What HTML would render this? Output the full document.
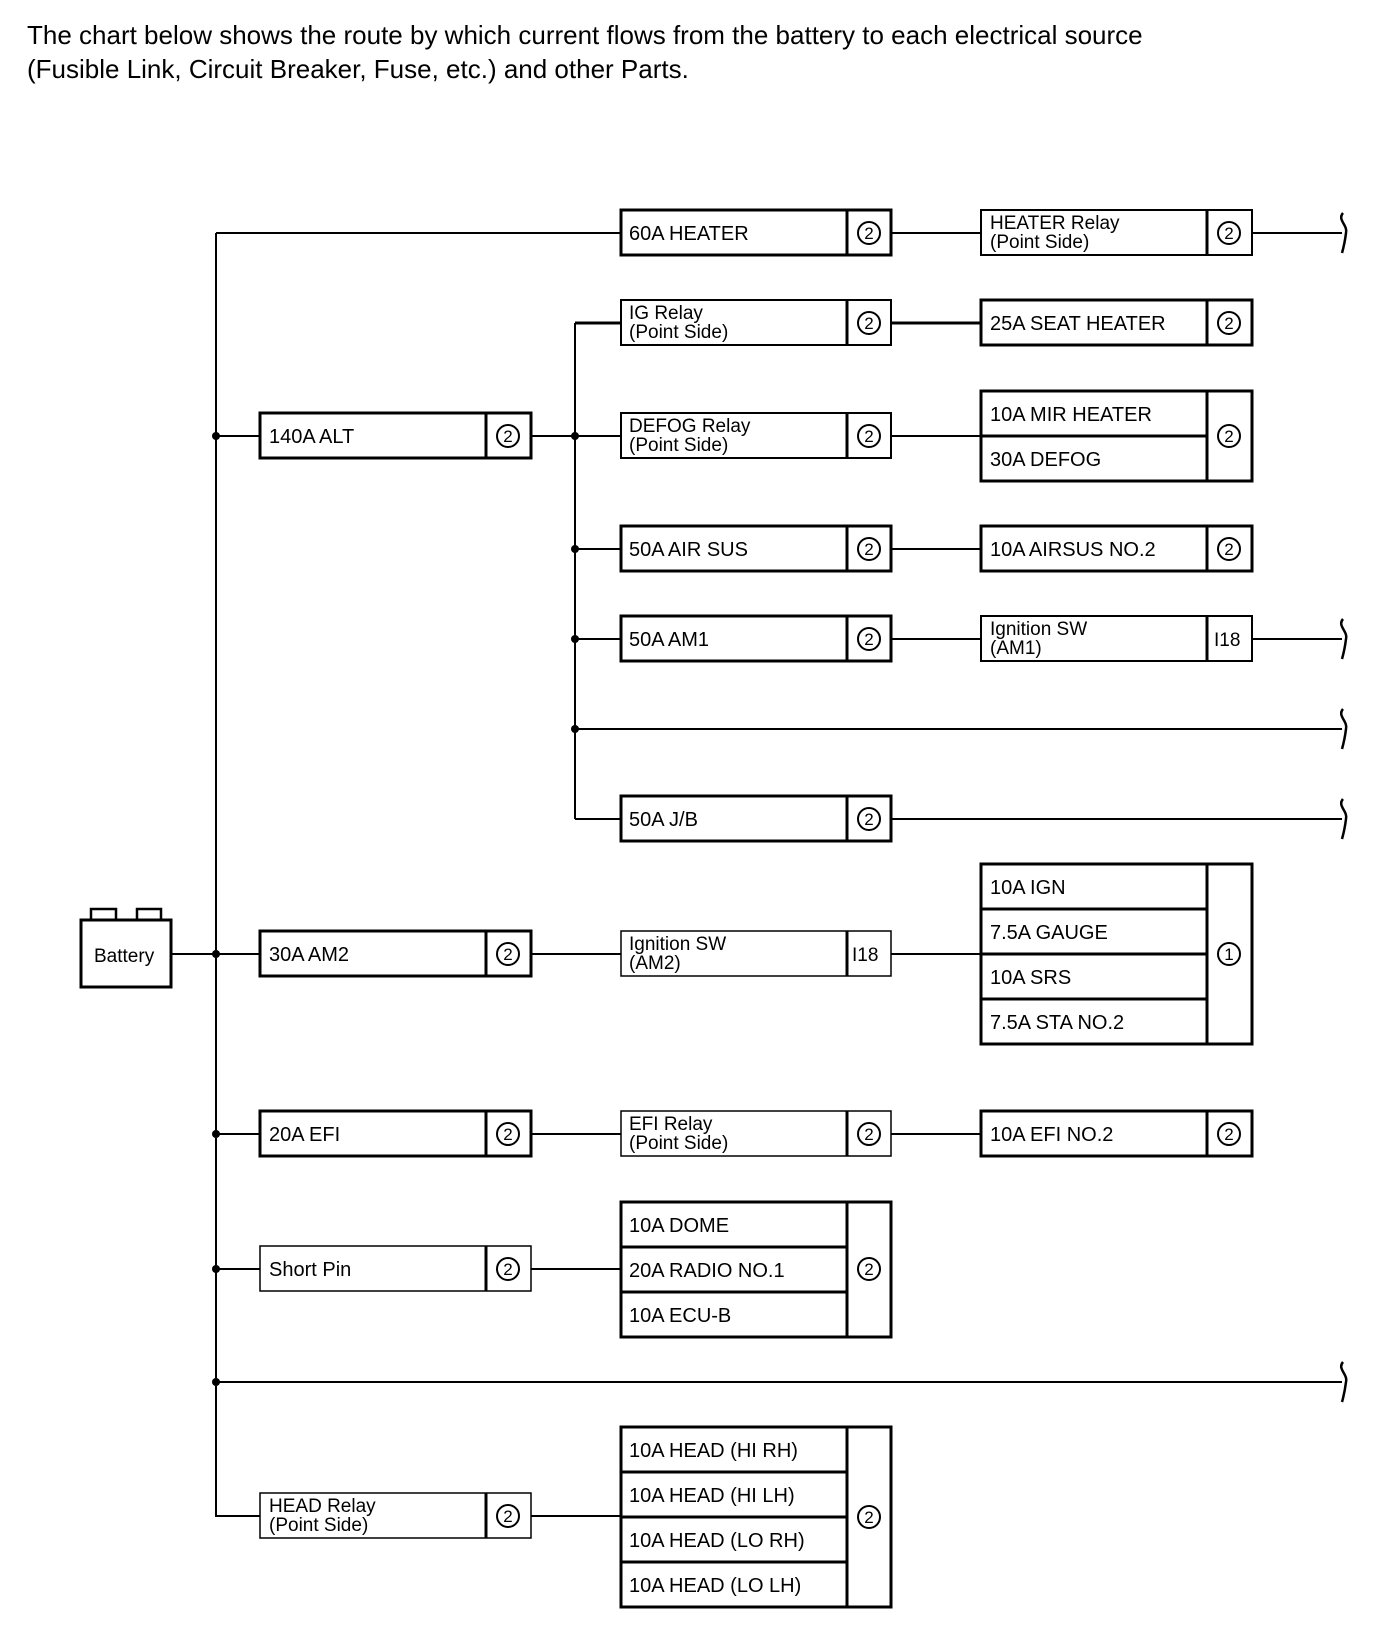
<!DOCTYPE html>
<html><head><meta charset="utf-8"><style>
body{margin:0;background:#fff;}
svg text{font-family:"Liberation Sans",Arial,sans-serif;fill:#000;}
</style></head><body>
<svg width="1376" height="1624" viewBox="0 0 1376 1624" xmlns="http://www.w3.org/2000/svg">
<text x="27" y="44" font-size="26">The chart below shows the route by which current flows from the battery to each electrical source</text>
<text x="27" y="78" font-size="26">(Fusible Link, Circuit Breaker, Fuse, etc.) and other Parts.</text>
<g stroke="#000" stroke-width="2" fill="none">
<!-- main bus -->
<line x1="216" y1="233" x2="216" y2="1517"/>
<line x1="216" y1="233" x2="621" y2="233"/>
<line x1="216" y1="436" x2="260" y2="436"/>
<line x1="172" y1="954" x2="260" y2="954"/>
<line x1="216" y1="1134" x2="260" y2="1134"/>
<line x1="216" y1="1269" x2="260" y2="1269"/>
<line x1="216" y1="1382" x2="1342" y2="1382"/>
<line x1="216" y1="1516" x2="260" y2="1516"/>
<!-- second bus -->
<line x1="575" y1="323" x2="575" y2="819"/>
<line x1="531" y1="436" x2="621" y2="436"/>
<line x1="575" y1="323" x2="621" y2="323" stroke-width="3"/>
<line x1="575" y1="549" x2="621" y2="549"/>
<line x1="575" y1="639" x2="621" y2="639"/>
<line x1="575" y1="729" x2="1342" y2="729"/>
<line x1="575" y1="819" x2="621" y2="819"/>
<!-- B to C -->
<line x1="891" y1="233" x2="980" y2="233"/>
<line x1="1252" y1="233" x2="1342" y2="233"/>
<line x1="891" y1="323" x2="980" y2="323" stroke-width="3"/>
<line x1="891" y1="436" x2="980" y2="436"/>
<line x1="891" y1="549" x2="980" y2="549"/>
<line x1="891" y1="639" x2="980" y2="639"/>
<line x1="1252" y1="639" x2="1342" y2="639"/>
<line x1="891" y1="819" x2="1342" y2="819"/>
<line x1="531" y1="954" x2="621" y2="954"/>
<line x1="891" y1="954" x2="980" y2="954"/>
<line x1="531" y1="1134" x2="621" y2="1134"/>
<line x1="891" y1="1134" x2="980" y2="1134"/>
<line x1="531" y1="1269" x2="621" y2="1269"/>
<line x1="531" y1="1516" x2="621" y2="1516"/>
<!-- brackets -->
<g stroke-width="2.5">
<path d="M1343,213 C1337,220 1348,225 1346,233 C1345,241 1344,246 1342,253"/>
<path d="M1343,619 C1337,626 1348,631 1346,639 C1345,647 1344,652 1342,659"/>
<path d="M1343,709 C1337,716 1348,721 1346,729 C1345,737 1344,742 1342,749"/>
<path d="M1343,799 C1337,806 1348,811 1346,819 C1345,827 1344,832 1342,839"/>
<path d="M1343,1362 C1337,1369 1348,1374 1346,1382 C1345,1390 1344,1395 1342,1402"/>
</g>
<!-- battery -->
<rect x="81" y="920" width="90" height="67" stroke-width="3"/>
<rect x="91" y="909" width="25" height="11" stroke-width="2.5"/>
<rect x="137" y="909" width="24" height="11" stroke-width="2.5"/>
</g>
<g fill="#000">
<circle cx="216" cy="436" r="4"/><circle cx="216" cy="954" r="4"/><circle cx="216" cy="1134" r="4"/>
<circle cx="216" cy="1269" r="4"/><circle cx="216" cy="1382" r="4"/>
<circle cx="575" cy="436" r="4"/><circle cx="575" cy="549" r="4"/><circle cx="575" cy="639" r="4"/><circle cx="575" cy="729" r="4"/>
</g>
<text x="94" y="962" font-size="19">Battery</text>

<!-- boxes -->
<g stroke="#000" fill="none" stroke-width="3">
<!-- col A -->
<rect x="260" y="413" width="271" height="45"/><line x1="486" y1="413" x2="486" y2="458"/>
<rect x="260" y="931" width="271" height="45"/><line x1="486" y1="931" x2="486" y2="976"/>
<rect x="260" y="1111" width="271" height="45"/><line x1="486" y1="1111" x2="486" y2="1156"/>
<rect x="260" y="1246" width="271" height="45" stroke-width="1.5"/><line x1="486" y1="1246" x2="486" y2="1291"/>
<rect x="260" y="1493" width="271" height="45" stroke-width="1.5"/><line x1="486" y1="1493" x2="486" y2="1538"/>
<!-- col B -->
<rect x="621" y="210" width="270" height="45"/><line x1="847" y1="210" x2="847" y2="255"/>
<rect x="621" y="300" width="270" height="45" stroke-width="2"/><line x1="847" y1="300" x2="847" y2="345"/>
<rect x="621" y="413" width="270" height="45" stroke-width="2"/><line x1="847" y1="413" x2="847" y2="458"/>
<rect x="621" y="526" width="270" height="45"/><line x1="847" y1="526" x2="847" y2="571"/>
<rect x="621" y="616" width="270" height="45"/><line x1="847" y1="616" x2="847" y2="661"/>
<rect x="621" y="796" width="270" height="45"/><line x1="847" y1="796" x2="847" y2="841"/>
<rect x="621" y="931" width="270" height="45" stroke-width="1.5"/><line x1="847" y1="931" x2="847" y2="976"/>
<rect x="621" y="1111" width="270" height="45" stroke-width="1.5"/><line x1="847" y1="1111" x2="847" y2="1156"/>
<rect x="621" y="1202" width="270" height="135"/><line x1="847" y1="1202" x2="847" y2="1337"/>
<line x1="621" y1="1247" x2="847" y2="1247"/><line x1="621" y1="1292" x2="847" y2="1292"/>
<rect x="621" y="1427" width="270" height="180"/><line x1="847" y1="1427" x2="847" y2="1607"/>
<line x1="621" y1="1472" x2="847" y2="1472"/><line x1="621" y1="1517" x2="847" y2="1517"/><line x1="621" y1="1562" x2="847" y2="1562"/>
<!-- col C -->
<rect x="981" y="210" width="271" height="45" stroke-width="2"/><line x1="1207" y1="210" x2="1207" y2="255"/>
<rect x="981" y="300" width="271" height="45"/><line x1="1207" y1="300" x2="1207" y2="345"/>
<rect x="981" y="391" width="271" height="90"/><line x1="1207" y1="391" x2="1207" y2="481"/><line x1="981" y1="436" x2="1207" y2="436"/>
<rect x="981" y="526" width="271" height="45"/><line x1="1207" y1="526" x2="1207" y2="571"/>
<rect x="981" y="616" width="271" height="45" stroke-width="2"/><line x1="1207" y1="616" x2="1207" y2="661"/>
<rect x="981" y="864" width="271" height="180"/><line x1="1207" y1="864" x2="1207" y2="1044"/>
<line x1="981" y1="909" x2="1207" y2="909"/><line x1="981" y1="954" x2="1207" y2="954"/><line x1="981" y1="999" x2="1207" y2="999"/>
<rect x="981" y="1111" width="271" height="45"/><line x1="1207" y1="1111" x2="1207" y2="1156"/>
</g>

<g font-size="20">
<text x="269" y="443">140A ALT</text>
<text x="269" y="961">30A AM2</text>
<text x="269" y="1141">20A EFI</text>
<text x="269" y="1276">Short Pin</text>
<text x="269" y="1512" font-size="19">HEAD Relay</text><text x="269" y="1531" font-size="19">(Point Side)</text>

<text x="629" y="240">60A HEATER</text>
<text x="629" y="319" font-size="19">IG Relay</text><text x="629" y="338" font-size="19">(Point Side)</text>
<text x="629" y="432" font-size="19">DEFOG Relay</text><text x="629" y="451" font-size="19">(Point Side)</text>
<text x="629" y="556">50A AIR SUS</text>
<text x="629" y="646">50A AM1</text>
<text x="629" y="826">50A J/B</text>
<text x="629" y="950" font-size="19">Ignition SW</text><text x="629" y="969" font-size="19">(AM2)</text>
<text x="629" y="1130" font-size="19">EFI Relay</text><text x="629" y="1149" font-size="19">(Point Side)</text>
<text x="629" y="1232">10A DOME</text>
<text x="629" y="1277">20A RADIO NO.1</text>
<text x="629" y="1322">10A ECU-B</text>
<text x="629" y="1457">10A HEAD (HI RH)</text>
<text x="629" y="1502">10A HEAD (HI LH)</text>
<text x="629" y="1547">10A HEAD (LO RH)</text>
<text x="629" y="1592">10A HEAD (LO LH)</text>

<text x="990" y="229" font-size="19">HEATER Relay</text><text x="990" y="248" font-size="19">(Point Side)</text>
<text x="990" y="330">25A SEAT HEATER</text>
<text x="990" y="421">10A MIR HEATER</text>
<text x="990" y="466">30A DEFOG</text>
<text x="990" y="556">10A AIRSUS NO.2</text>
<text x="990" y="635" font-size="19">Ignition SW</text><text x="990" y="654" font-size="19">(AM1)</text>
<text x="990" y="894">10A IGN</text>
<text x="990" y="939">7.5A GAUGE</text>
<text x="990" y="984">10A SRS</text>
<text x="990" y="1029">7.5A STA NO.2</text>
<text x="990" y="1141">10A EFI NO.2</text>

<text x="852" y="961" font-size="19">I18</text>
<text x="1214" y="646" font-size="19">I18</text>
</g>

<g stroke="#000" stroke-width="2" fill="none">
<circle cx="508" cy="436" r="11"/><circle cx="508" cy="954" r="11"/><circle cx="508" cy="1134" r="11"/><circle cx="508" cy="1269" r="11"/><circle cx="508" cy="1516" r="11"/>
<circle cx="869" cy="233" r="11"/><circle cx="869" cy="323" r="11"/><circle cx="869" cy="436" r="11"/><circle cx="869" cy="549" r="11"/><circle cx="869" cy="639" r="11"/><circle cx="869" cy="819" r="11"/><circle cx="869" cy="1134" r="11"/><circle cx="869" cy="1269" r="11"/><circle cx="869" cy="1517" r="11"/>
<circle cx="1229" cy="233" r="11"/><circle cx="1229" cy="323" r="11"/><circle cx="1229" cy="436" r="11"/><circle cx="1229" cy="549" r="11"/><circle cx="1229" cy="954" r="11"/><circle cx="1229" cy="1134" r="11"/>
</g>
<g font-size="17" text-anchor="middle">
<text x="508" y="442">2</text><text x="508" y="960">2</text><text x="508" y="1140">2</text><text x="508" y="1275">2</text><text x="508" y="1522">2</text>
<text x="869" y="239">2</text><text x="869" y="329">2</text><text x="869" y="442">2</text><text x="869" y="555">2</text><text x="869" y="645">2</text><text x="869" y="825">2</text><text x="869" y="1140">2</text><text x="869" y="1275">2</text><text x="869" y="1523">2</text>
<text x="1229" y="239">2</text><text x="1229" y="329">2</text><text x="1229" y="442">2</text><text x="1229" y="555">2</text><text x="1229" y="960">1</text><text x="1229" y="1140">2</text>
</g>
</svg>
</body></html>
